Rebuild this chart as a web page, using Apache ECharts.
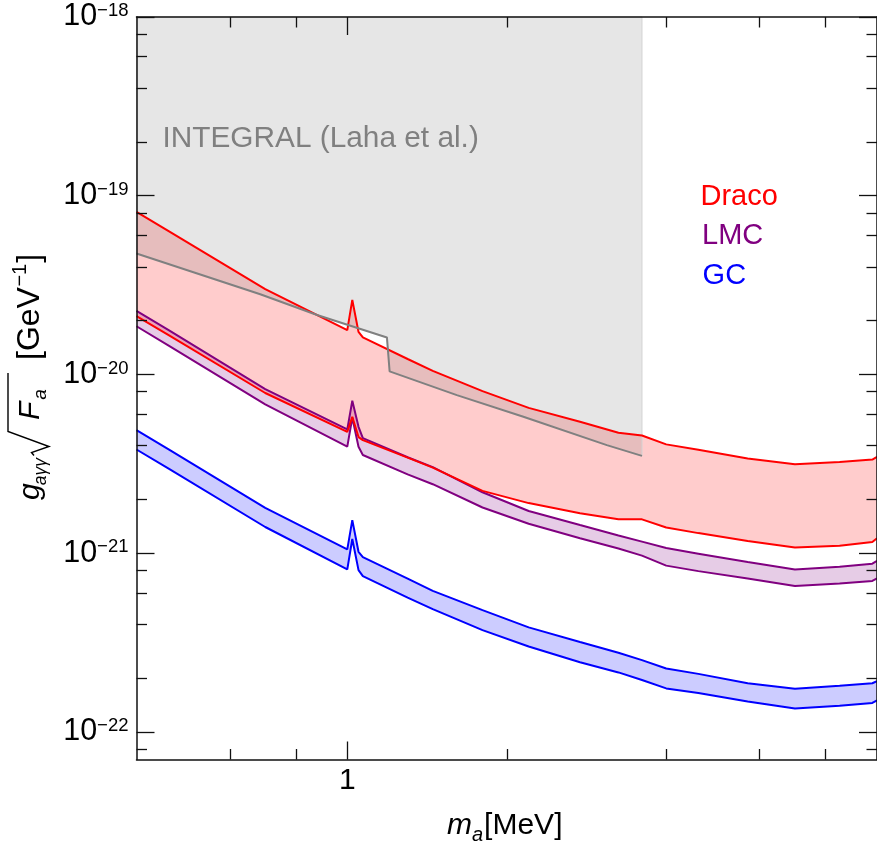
<!DOCTYPE html>
<html>
<head>
<meta charset="utf-8">
<script src="https://cdn.jsdelivr.net/npm/echarts@6/dist/echarts.min.js"></script>
<style>html,body{margin:0;padding:0;background:#fff}#chart{width:877px;height:845px}</style>
</head>
<body>
<div id="chart"></div>
<script>
// ---- data ----
const massGrid   = [0.4, 0.46, 0.7, 1.0, 1.022, 1.05, 1.07, 1.3, 1.45, 1.8, 2.2, 2.75, 3.25, 3.6, 4.0, 4.6, 5.7, 7.0, 8.5, 9.8, 10];
const dracoUpper = [8.13e-20, 6.34e-20, 3.0e-20, 1.77e-20, 2.61e-20, 1.73e-20, 1.61e-20, 1.22e-20, 1.046e-20, 8.06e-21, 6.5e-21, 5.43e-21, 4.72e-21, 4.55e-21, 4.06e-21, 3.79e-21, 3.38e-21, 3.14e-21, 3.23e-21, 3.34e-21, 3.46e-21];
const dracoLower = [2.12e-20, 1.66e-20, 7.87e-21, 4.77e-21, 5.79e-21, 4.46e-21, 4.29e-21, 3.42e-21, 3.01e-21, 2.23e-21, 1.905e-21, 1.67e-21, 1.545e-21, 1.545e-21, 1.39e-21, 1.294e-21, 1.17e-21, 1.076e-21, 1.10e-21, 1.154e-21, 1.21e-21];
const lmcUpper   = [2.27e-20, 1.77e-20, 8.28e-21, 4.92e-21, 7.12e-21, 5.09e-21, 4.40e-21, 3.44e-21, 3.03e-21, 2.19e-21, 1.72e-21, 1.435e-21, 1.256e-21, 1.16e-21, 1.067e-21, 9.93e-22, 8.91e-22, 8.09e-22, 8.40e-22, 8.73e-22, 9.06e-22];
const lmcLower   = [1.86e-20, 1.45e-20, 6.8e-21, 3.94e-21, 5.72e-21, 3.94e-21, 3.54e-21, 2.76e-21, 2.43e-21, 1.80e-21, 1.46e-21, 1.21e-21, 1.062e-21, 9.68e-22, 8.51e-22, 7.93e-22, 7.20e-22, 6.54e-22, 6.75e-22, 6.99e-22, 7.22e-22];
const gcUpper    = [4.88e-21, 3.81e-21, 1.79e-21, 1.05e-21, 1.53e-21, 1.017e-21, 9.5e-22, 7.20e-22, 6.15e-22, 4.80e-22, 3.84e-22, 3.18e-22, 2.77e-22, 2.52e-22, 2.26e-22, 2.11e-22, 1.87e-22, 1.74e-22, 1.81e-22, 1.87e-22, 1.92e-22];
const gcLower    = [3.80e-21, 2.97e-21, 1.40e-21, 8.11e-22, 1.20e-21, 8.03e-22, 7.44e-22, 5.64e-22, 4.86e-22, 3.71e-22, 3.00e-22, 2.45e-22, 2.15e-22, 1.95e-22, 1.75e-22, 1.65e-22, 1.48e-22, 1.35e-22, 1.40e-22, 1.45e-22, 1.50e-22];

const integralMass  = [0.4, 0.685, 0.877, 1.188, 1.202, 1.61, 2.15, 3.09, 3.6];
const integralLimit = [4.75e-20, 2.81e-20, 2.15e-20, 1.61e-20, 1.04e-20, 7.66e-21, 5.79e-21, 4.02e-21, 3.50e-21];

const xMajorTicks = [1, 10];
const xMinorTicks = [0.6, 0.8, 2, 4, 6, 8];
const xTickLabels = [1];
const yMajorTicks = [1e-22, 1e-21, 1e-20, 1e-19, 1e-18];
const yMinorTicks = [8e-23, 2e-22, 4e-22, 6e-22, 8e-22, 2e-21, 4e-21, 6e-21, 8e-21, 2e-20, 4e-20, 6e-20, 8e-20, 2e-19, 4e-19, 6e-19, 8e-19];

const seriesNames = ['Draco', 'LMC', 'GC'];
const integralName = 'INTEGRAL (Laha et al.)';

// ---- styling ----
const FONT = '"Liberation Sans", Arial, Helvetica, sans-serif';
const FRAME = '#111';
const X_MIN = 0.4, X_MAX = 10, Y_MIN = 7e-23, Y_MAX = 1e-18;

function xAxis(position, ticks, len, showLine, labels) {
  return {
    type: 'log', logBase: 10, min: X_MIN, max: X_MAX, position: position, z: 10,
    axisLine: { show: showLine, onZero: false, lineStyle: { color: FRAME, width: 1.5 } },
    axisTick: { show: true, inside: true, length: len, customValues: ticks, lineStyle: { color: FRAME, width: 1.3 } },
    axisLabel: labels ? {
      show: true, customValues: labels, margin: 6, color: '#000', fontSize: 30, fontFamily: FONT,
      formatter: v => String(v)
    } : { show: false },
    splitLine: { show: false }, minorTick: { show: false }, minorSplitLine: { show: false }
  };
}
function yAxis(position, ticks, len, showLine, labels) {
  return {
    type: 'log', logBase: 10, min: Y_MIN, max: Y_MAX, position: position, z: 10,
    axisLine: { show: showLine, onZero: false, lineStyle: { color: FRAME, width: 1.5 } },
    axisTick: { show: true, inside: true, length: len, customValues: ticks, lineStyle: { color: FRAME, width: 1.3 } },
    axisLabel: labels ? {
      show: true, customValues: labels, margin: 8,
      formatter: v => { const n = Math.round(Math.log10(v)); return '{b|10}{s|\u2212' + Math.abs(n) + '}'; },
      rich: {
        b: { fontSize: 30.5, fontFamily: FONT, color: '#000', lineHeight: 31 },
        s: { fontSize: 18.5, fontFamily: FONT, color: '#000', lineHeight: 19, verticalAlign: 'top' }
      }
    } : { show: false },
    splitLine: { show: false }, minorTick: { show: false }, minorSplitLine: { show: false }
  };
}

function zip(xs, ys) { return xs.map((x, i) => [x, ys[i]]); }

function bandSeries(xs, upper, lower, fill, stroke) {
  return {
    type: 'custom', silent: true, z: 1, xAxisIndex: 0, yAxisIndex: 0,
    data: [[1, 1e-20]], encode: { x: 0, y: 1 },
    renderItem: function (params, api) {
      const pts = [];
      for (let i = 0; i < xs.length; i++) pts.push(api.coord([xs[i], upper[i]]));
      for (let i = xs.length - 1; i >= 0; i--) pts.push(api.coord([xs[i], lower[i]]));
      return { type: 'polygon', shape: { points: pts },
        style: { fill: fill, stroke: stroke || null, lineWidth: stroke ? 1 : 0 } };
    }
  };
}
function lineSeries(xs, ys, color, w) {
  return {
    type: 'line', z: 3, xAxisIndex: 0, yAxisIndex: 0, data: zip(xs, ys),
    symbol: 'none', showSymbol: false, smooth: false, silent: true,
    lineStyle: { color: color, width: w || 2 }
  };
}

// text measurement for the composed axis titles
const mctx = document.createElement('canvas').getContext('2d');
function tw(t, font) { mctx.font = font; return mctx.measureText(t).width; }
function fontStr(size, italic) { return (italic ? 'italic ' : '') + size + 'px ' + FONT; }
// text element whose alphabetic baseline sits at (x, by)
function baseText(x, by, text, size, italic, color) {
  return { type: 'text', x: x, y: by - 0.3465 * size, silent: true,
    style: { text: text, font: fontStr(size, italic), fill: color || '#000', align: 'left', verticalAlign: 'middle' } };
}

// ---- y axis title (rotated group, local x runs upward on screen) ----
const TS = 30, SS = 19;
const yTitle = [];
(function () {
  yTitle.push(baseText(0, 0, 'g', TS, true));
  const gW = tw('g', fontStr(TS, true));
  yTitle.push(baseText(gW - 2, 6, 'a\u03B3\u03B3', 17.5, true));
  // radical sign
  const r0 = 44.5;
  const fStart = 80;
  const fW = tw('F', fontStr(TS, true));
  const radEnd = 127;
  yTitle.push({ type: 'polyline', silent: true,
    shape: { points: [[r0, -7], [r0 + 3, -9.5], [r0 + 9, 8], [r0 + 24, -33], [radEnd, -33]] },
    style: { stroke: '#000', lineWidth: 1.4, fill: null } });
  yTitle.push(baseText(fStart, 0, 'F', TS, true));
  yTitle.push(baseText(fStart + fW + 2, 6, 'a', SS, true));
  // [GeV^-1]
  const BS = 32, PS = 20;
  const startX = 140;
  const wOpen = tw('[GeV', fontStr(BS, false));
  const wSup = tw('\u22121', fontStr(PS, false));
  yTitle.push(baseText(startX, 0, '[GeV', BS, false));
  yTitle.push(baseText(startX + wOpen + 0.5, -14, '\u22121', PS, false));
  yTitle.push(baseText(startX + wOpen + wSup + 1.5, 0, ']', BS, false));
})();

// ---- x axis title ----
const xTitle = [];
(function () {
  let cx = 447, by = 836;
  xTitle.push(baseText(cx, by, 'm', TS, true));
  cx += tw('m', fontStr(TS, true));
  xTitle.push(baseText(cx, by + 6, 'a', SS + 1, true));
  cx += tw('a', fontStr(SS + 1, true)) + 1;
  xTitle.push(baseText(cx, by, '[MeV]', TS, false));
})();

const chart = echarts.init(document.getElementById('chart'), null, { renderer: 'canvas' });
chart.setOption({
  animation: false,
  backgroundColor: '#fff',
  grid: { left: 136.5, top: 17, width: 742.5, height: 742.5, containLabel: false },
  xAxis: [
    xAxis('bottom', xMajorTicks, 18, true, xTickLabels),
    xAxis('bottom', xMinorTicks, 10.5, false, null),
    xAxis('top', xMajorTicks, 18, true, null),
    xAxis('top', xMinorTicks, 10.5, false, null)
  ],
  yAxis: [
    yAxis('left', yMajorTicks, 18, true, yMajorTicks),
    yAxis('left', yMinorTicks, 10.5, false, null),
    yAxis('right', yMajorTicks, 18, true, null),
    yAxis('right', yMinorTicks, 10.5, false, null)
  ],
  series: [
    bandSeries(massGrid, gcUpper, gcLower, 'rgba(0,0,255,0.2)'),
    bandSeries(massGrid, lmcUpper, lmcLower, 'rgba(128,0,128,0.2)'),
    bandSeries(massGrid, dracoUpper, dracoLower, 'rgba(255,0,0,0.2)'),
    bandSeries(integralMass, integralMass.map(() => Y_MAX), integralLimit, 'rgba(128,128,128,0.2)', '#d2d2d2'),
    lineSeries(massGrid, gcUpper, '#0000ff'),
    lineSeries(massGrid, gcLower, '#0000ff'),
    lineSeries(massGrid, lmcUpper, '#800080'),
    lineSeries(massGrid, lmcLower, '#800080'),
    lineSeries(massGrid, dracoUpper, '#ff0000'),
    lineSeries(massGrid, dracoLower, '#ff0000'),
    lineSeries(integralMass, integralLimit, '#808080')
  ],
  graphic: [
    baseText(162.5, 149.3, integralName, 29.8, false, '#808080'),
    baseText(700.5, 206.7, seriesNames[0], 29, false, '#ff0000'),
    baseText(702, 245.7, seriesNames[1], 29, false, '#800080'),
    baseText(702.6, 286, seriesNames[2], 29, false, '#0000ff'),
    { type: 'group', x: 41, y: 500, rotation: Math.PI / 2, silent: true, children: yTitle },
    { type: 'group', x: 0, y: 0, silent: true, children: xTitle }
  ]
});
</script>
</body>
</html>
